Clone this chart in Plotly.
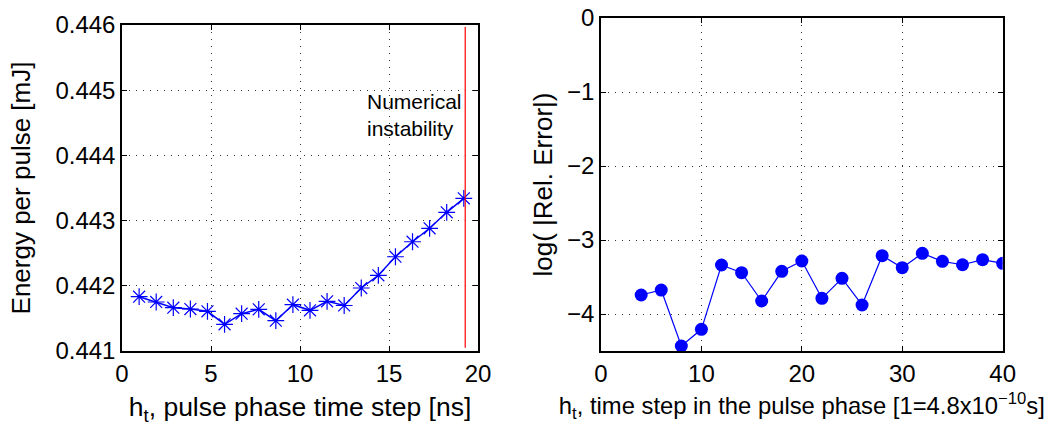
import plotly.graph_objects as go

# Left panel data
energy_x = [0.96, 1.92, 2.88, 3.84, 4.80, 5.76, 6.72, 7.68, 8.64, 9.60,
            10.56, 11.52, 12.48, 13.44, 14.40, 15.36, 16.32, 17.28, 18.24, 19.20]
energy_y = [0.441833, 0.441752, 0.441664, 0.441644, 0.441609, 0.441410, 0.441572,
            0.441640, 0.441465, 0.441710, 0.441624, 0.441762, 0.441698, 0.441966,
            0.442161, 0.442446, 0.442676, 0.442882, 0.443127, 0.443342]
instability_x = [19.28, 19.28]
instability_y = [0.44105, 0.44597]
instability_label = "Numerical<br>instability"

# Right panel data
step_x = [4, 6, 8, 10, 12, 14, 16, 18, 20, 22, 24, 26, 28, 30, 32, 34, 36, 38, 40]
logerr_y = [-3.743, -3.676, -4.432, -4.207, -3.338, -3.442, -3.824, -3.423, -3.284,
            -3.788, -3.518, -3.878, -3.212, -3.374, -3.180, -3.288, -3.334, -3.266, -3.315]

left_yticks = [0.441, 0.442, 0.443, 0.444, 0.445, 0.446]
left_xticks = [0, 5, 10, 15, 20]
right_xticks = [0, 10, 20, 30, 40]
right_yticks = [-4, -3, -2, -1, 0]

FONT = "Liberation Sans, Arial, sans-serif"
BLUE = "#0000FF"

fig = go.Figure()
fig.add_trace(go.Scatter(x=energy_x, y=energy_y, mode="lines+markers",
                         line=dict(color=BLUE, width=1.5),
                         marker=dict(symbol="asterisk-open", size=14,
                                     line=dict(color=BLUE, width=1.2)),
                         xaxis="x", yaxis="y", showlegend=False))
fig.add_trace(go.Scatter(x=instability_x, y=instability_y, mode="lines",
                         line=dict(color="#FF0000", width=1.2),
                         xaxis="x", yaxis="y", showlegend=False))
fig.add_trace(go.Scatter(x=step_x, y=logerr_y, mode="lines+markers",
                         line=dict(color=BLUE, width=1.2),
                         marker=dict(symbol="circle", size=13, color=BLUE),
                         xaxis="x2", yaxis="y2", showlegend=False))

def ax(**kw):
    d = dict(showline=True, linecolor="black", linewidth=1.5, mirror="ticks",
             ticks="inside", ticklen=5, tickcolor="black", tickwidth=1,
             showgrid=True, gridcolor="#333333", gridwidth=1, griddash="1px,6px",
             zeroline=False, automargin=False,
             tickfont=dict(family=FONT, size=24, color="black"))
    d.update(kw)
    return d

def title(text, standoff, size=26):
    return dict(text=text, standoff=standoff,
                font=dict(family=FONT, size=size, color="black"))

fig.update_layout(
    width=1052, height=431,
    margin=dict(l=0, r=0, t=0, b=0, autoexpand=False),
    paper_bgcolor="white", plot_bgcolor="white",
    xaxis=ax(domain=[0.116, 0.4544], range=[0, 20], tickvals=left_xticks,
             title=title("h<sub>t</sub>, pulse phase time step [ns]", 12, 26.5),
             anchor="y"),
    yaxis=ax(domain=[0.1856, 0.942], range=[0.441, 0.446], tickvals=left_yticks,
             tickformat=".3f",
             title=title("Energy per pulse [mJ]", 17),
             anchor="x"),
    xaxis2=ax(domain=[0.5713, 0.9531], range=[0, 40], tickvals=right_xticks,
              title=title("h<sub>t</sub>, time step in the pulse phase [1=4.8x10<sup>−10</sup>s]", 12, 23.8),
              anchor="y2"),
    yaxis2=ax(domain=[0.1856, 0.9582], range=[-4.5, 0], tickvals=right_yticks,
              title=title("log( |Rel. Error|)", 7),
              anchor="x2"),
    annotations=[dict(x=19.22, y=0.44462, xref="x", yref="y", text=instability_label,
                      showarrow=False, xanchor="right", yanchor="middle", align="left",
                      font=dict(family=FONT, size=21, color="black"))],
)

fig.write_html("out.html")
